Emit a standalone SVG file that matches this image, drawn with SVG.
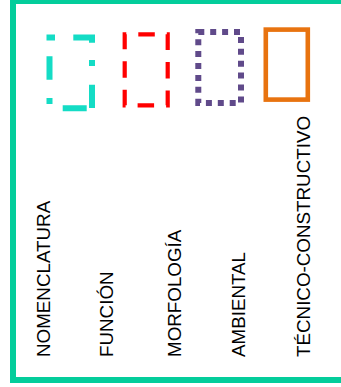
<svg xmlns="http://www.w3.org/2000/svg" width="341" height="387" viewBox="0 0 341 387">
  <style>
    .lbl { font-family: "Liberation Sans", Arial, sans-serif; font-size: 18.8px; fill: #000000; }
    .shape { fill: none; }
  </style>
  <rect x="0" y="0" width="341" height="387" fill="#ffffff"/>
  <g id="frame">
    <rect x="13" y="1" width="345" height="379" fill="none" stroke="#03CD9B" stroke-width="6"/>
  </g>
  <g id="nomenclatura">
    <path class="shape" stroke="#14DCC5" stroke-width="6" stroke-linejoin="miter" d="M49.5,40.5 V37.5 H55 M73.3,37.5 H92 V42.7 M92,60 V66 M92,84.7 V108 M86.7,108.3 H62.7 M49.5,104 V98 M49.5,79.7 V56.3"/>
    <text class="lbl" transform="translate(49.5,357) rotate(-90)">NOMENCLATURA</text>
  </g>
  <g id="funcion">
    <rect class="shape" x="124.7" y="34.3" width="43" height="71" stroke="#FF0000" stroke-width="4.2" stroke-dasharray="16.5 12" stroke-dashoffset="14.9"/>
    <text class="lbl" transform="translate(112.5,357) rotate(-90)">FUNCIÓN</text>
  </g>
  <g id="morfologia">
    <rect class="shape" x="198.3" y="32" width="42.7" height="71" stroke="#604A8A" stroke-width="6" stroke-dasharray="6 5.9"/>
    <text class="lbl" transform="translate(180.8,357) rotate(-90)">MORFOLOGÍA</text>
  </g>
  <g id="ambiental">
    <rect class="shape" x="265.8" y="29.6" width="42" height="70" stroke="#E8730F" stroke-width="4.6"/>
    <text class="lbl" transform="translate(244.5,357) rotate(-90)">AMBIENTAL</text>
  </g>
  <g id="tecnico-constructivo">
    <text class="lbl" transform="translate(310.2,357) rotate(-90)">TÉCNICO-CONSTRUCTIVO</text>
  </g>
  <g id="connectors"></g>
</svg>
